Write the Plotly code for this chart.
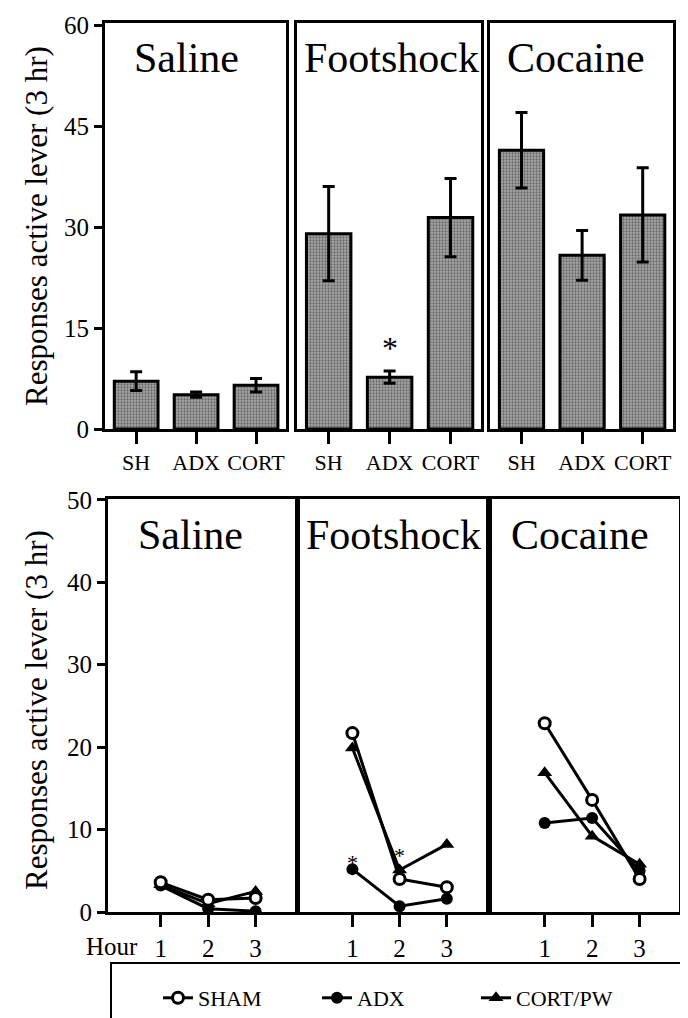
import plotly.graph_objects as go

W, H = 688, 1018
FONT = "Liberation Serif, Times New Roman, serif"

# ---------------- data ----------------
conditions = ["Saline", "Footshock", "Cocaine"]
groups = ["SH", "ADX", "CORT"]

saline_means = [7.1, 5.1, 6.5]
saline_sem = [1.4, 0.4, 1.0]
footshock_means = [29.0, 7.7, 31.4]
footshock_sem = [7.0, 0.9, 5.8]
cocaine_means = [41.4, 25.8, 31.8]
cocaine_sem = [5.6, 3.7, 7.0]

hours = [1, 2, 3]
hour_labels = ["1", "2", "3"]
saline_sham = [3.6, 1.5, 1.7]
saline_adx = [3.2, 0.4, 0.1]
saline_cort = [3.3, 1.0, 2.5]
footshock_sham = [21.7, 4.0, 3.0]
footshock_adx = [5.2, 0.7, 1.6]
footshock_cort = [19.9, 5.1, 8.2]
cocaine_sham = [22.9, 13.6, 4.0]
cocaine_adx = [10.8, 11.4, 5.0]
cocaine_cort = [16.9, 9.2, 5.8]

top_yticks = [0, 15, 30, 45, 60]
bottom_yticks = [0, 10, 20, 30, 40, 50]
series_names = ["SHAM", "ADX", "CORT/PW"]


def px(x):
    return x / W


def py(y):
    return 1 - y / H


fig = go.Figure()

bar_sets = [(saline_means, saline_sem), (footshock_means, footshock_sem), (cocaine_means, cocaine_sem)]
for i, (m, s) in enumerate(bar_sets):
    ax = "" if i == 0 else str(i + 1)
    fig.add_trace(go.Bar(
        x=[0, 1, 2], y=m, width=0.73,
        marker=dict(color="#8f8f8f", line=dict(color="black", width=3),
                    pattern=dict(shape=".", size=3, solidity=0.45, fgcolor="#2a2a2a", bgcolor="#a8a8a8")),
        error_y=dict(type="data", array=s, visible=True, thickness=3, width=6, color="black"),
        xaxis="x" + ax, yaxis="y" + ax, showlegend=False, hoverinfo="skip"))

line_sets = [
    (saline_sham, saline_adx, saline_cort),
    (footshock_sham, footshock_adx, footshock_cort),
    (cocaine_sham, cocaine_adx, cocaine_cort),
]
for i, (sham, adx, cort) in enumerate(line_sets):
    ax = str(i + 4)
    show = i == 1
    fig.add_trace(go.Scatter(
        x=hours, y=cort, mode="lines+markers", name=series_names[2], legendrank=3,
        line=dict(color="black", width=3),
        marker=dict(symbol="triangle-up", size=13, color="black"),
        xaxis="x" + ax, yaxis="y" + ax, showlegend=show))
    fig.add_trace(go.Scatter(
        x=hours, y=adx, mode="lines+markers", name=series_names[1], legendrank=2,
        line=dict(color="black", width=3),
        marker=dict(symbol="circle", size=12, color="black"),
        xaxis="x" + ax, yaxis="y" + ax, showlegend=show))
    fig.add_trace(go.Scatter(
        x=hours, y=sham, mode="lines+markers", name=series_names[0], legendrank=1,
        line=dict(color="black", width=3),
        marker=dict(symbol="circle", size=11, color="white", line=dict(color="black", width=3)),
        xaxis="x" + ax, yaxis="y" + ax, showlegend=show))

top_dom = [[97, 278], [289, 473], [482, 665]]
bot_dom = [[100, 287], [292, 478], [484, 671]]

layout = dict(
    width=W, height=H, margin=dict(l=0, r=0, t=0, b=0, autoexpand=False),
    paper_bgcolor="white", plot_bgcolor="white",
    font=dict(family=FONT, color="black"),
    barmode="overlay",
)

for i in range(3):
    ax = "" if i == 0 else str(i + 1)
    layout["xaxis" + ax] = dict(
        domain=[px(top_dom[i][0]), px(top_dom[i][1])], range=[-0.52, 2.5],
        anchor="y" + ax, tickvals=[0, 1, 2], ticktext=groups,
        ticks="outside", ticklen=12, tickwidth=3, tickcolor="black",
        tickfont=dict(size=22, family=FONT), showline=True, linewidth=3, linecolor="black",
        mirror=True, showgrid=False, zeroline=False, fixedrange=True)
    layout["yaxis" + ax] = dict(
        domain=[py(421), py(15)], range=[0, 60.3], anchor="x" + ax,
        tickvals=top_yticks, ticks="outside" if i == 0 else "", ticklen=8, tickwidth=3,
        tickcolor="black", showticklabels=(i == 0), tickfont=dict(size=25, family=FONT),
        showline=True, linewidth=3, linecolor="black", mirror=True,
        showgrid=False, zeroline=False, fixedrange=True)

for i in range(3):
    ax = str(i + 4)
    layout["xaxis" + ax] = dict(
        domain=[px(bot_dom[i][0]), px(bot_dom[i][1])], range=[-0.11, 3.83],
        anchor="y" + ax, tickvals=hours, ticktext=hour_labels,
        ticks="outside", ticklen=12, tickwidth=3, tickcolor="black",
        tickfont=dict(size=25, family=FONT), showline=True, linewidth=3, linecolor="black",
        mirror=True, showgrid=False, zeroline=False, fixedrange=True)
    layout["yaxis" + ax] = dict(
        domain=[py(904), py(491)], range=[0, 50.1], anchor="x" + ax,
        tickvals=bottom_yticks, ticks="outside" if i == 0 else "", ticklen=8, tickwidth=3,
        tickcolor="black", showticklabels=(i == 0), tickfont=dict(size=25, family=FONT),
        showline=True, linewidth=3, linecolor="black", mirror=True,
        showgrid=False, zeroline=False, fixedrange=True)

fig.update_layout(**layout)

ann = []
top_title_pos = [(178, 50), (383, 50), (568, 50)]
bot_title_pos = [(183, 527), (385, 527), (572, 527)]
for name, (x, y) in zip(conditions, top_title_pos):
    ann.append(dict(text=name, x=px(x), y=py(y), xref="paper", yref="paper",
                    showarrow=False, xanchor="center", yanchor="middle",
                    font=dict(size=42, family=FONT)))
for name, (x, y) in zip(conditions, bot_title_pos):
    ann.append(dict(text=name, x=px(x), y=py(y), xref="paper", yref="paper",
                    showarrow=False, xanchor="center", yanchor="middle",
                    font=dict(size=42, family=FONT)))

ylabel = "Responses active lever (3 hr)"
ann.append(dict(text=ylabel, x=px(28), y=py(218), xref="paper", yref="paper", textangle=-90,
                xanchor="center", yanchor="middle",
                showarrow=False, font=dict(size=31, family=FONT)))
ann.append(dict(text=ylabel, x=px(28), y=py(702), xref="paper", yref="paper", textangle=-90,
                xanchor="center", yanchor="middle",
                showarrow=False, font=dict(size=31, family=FONT)))
ann.append(dict(text="Hour", x=px(104), y=py(938), xref="paper", yref="paper",
                xanchor="center", yanchor="middle",
                showarrow=False, font=dict(size=25, family=FONT)))

# significance stars
ann.append(dict(text="*", x=1, y=12.0, xref="x2", yref="y2", showarrow=False,
                font=dict(size=32, family=FONT)))
ann.append(dict(text="*", x=1, y=6.0, xref="x5", yref="y5", showarrow=False,
                font=dict(size=22, family=FONT)))
ann.append(dict(text="*", x=2, y=6.9, xref="x5", yref="y5", showarrow=False,
                font=dict(size=22, family=FONT)))

fig.update_layout(annotations=ann)

fig.add_shape(type="path", xref="paper", yref="paper",
              path=f"M {px(103)} {py(1030)} L {px(103)} {py(955)} L {px(682)} {py(955)} L {px(682)} {py(1030)}",
              line=dict(color="black", width=2))

fig.update_layout(legend=dict(
    orientation="h", x=px(150), xanchor="left", y=py(990), yanchor="middle",
    entrywidth=114, entrywidthmode="pixels", font=dict(size=22, family=FONT),
    bgcolor="rgba(0,0,0,0)", itemsizing="trace"))

fig.write_html("out.html")
